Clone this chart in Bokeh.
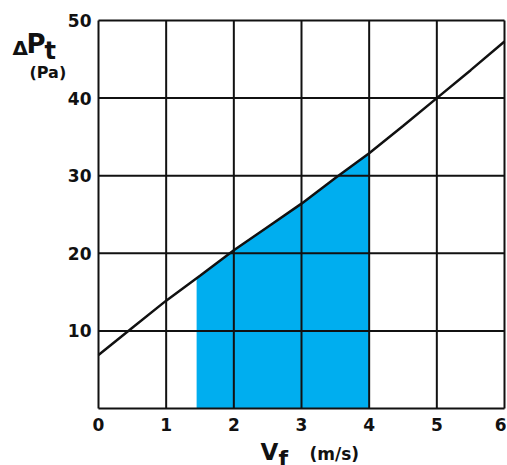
from bokeh.plotting import figure
from bokeh.models import FixedTicker, Label, Range1d
from bokeh.embed import file_html
from bokeh.resources import INLINE

# Curve data (Vf in m/s, ΔPt in Pa)
vf = [0, 0.5, 1, 1.5, 2, 2.5, 3, 3.5, 4, 4.5, 5, 5.5, 6]
dpt = [6.9, 10.4, 13.9, 17.1, 20.4, 23.4, 26.4, 29.7, 32.9, 36.4, 40.0, 43.6, 47.3]

# Shaded operating region
fill_vf = [1.45, 2, 2.5, 3, 3.5, 4]
fill_dpt = [16.8, 20.4, 23.4, 26.4, 29.7, 32.9]

x_ticks = [0, 1, 2, 3, 4, 5, 6]
y_ticks = [10, 20, 30, 40, 50]
y_grid = [0, 10, 20, 30, 40, 50]

FONT = "DejaVu Sans"
INK = "#111111"

W, H = 506, 465
# plot box spans x 0..6 and y 0..50; the canvas extends around it for labels
p = figure(width=W, height=H, output_backend="svg", toolbar_location=None,
           x_range=Range1d(-1.4483, 6.0296), y_range=Range1d(-7.345, 52.577),
           min_border=0)
p.background_fill_color = "white"
p.border_fill_color = "white"
p.outline_line_color = None
p.xgrid.visible = False
p.ygrid.visible = False

p.varea(x=fill_vf, y1=0, y2=fill_dpt, fill_color="#00AEEF")

# grid box
p.segment(x0=x_ticks, y0=[y_grid[0]] * len(x_ticks), x1=x_ticks,
          y1=[y_grid[-1]] * len(x_ticks), line_color=INK, line_width=2)
p.segment(x0=[x_ticks[0]] * len(y_grid), y0=y_grid, x1=[x_ticks[-1]] * len(y_grid),
          y1=y_grid, line_color=INK, line_width=2)

p.line(vf, dpt, line_color=INK, line_width=2.5)

p.xaxis.ticker = FixedTicker(ticks=x_ticks)
p.yaxis.ticker = FixedTicker(ticks=y_ticks)
p.xaxis.fixed_location = 0
p.yaxis.fixed_location = 0
for ax in (p.xaxis, p.yaxis):
    ax.axis_line_color = None
    ax.major_tick_line_color = None
    ax.minor_tick_line_color = None
    ax.major_tick_out = 0
    ax.major_tick_in = 0
    ax.major_label_text_font = FONT
    ax.major_label_text_font_style = "bold"
    ax.major_label_text_font_size = "17px"
    ax.major_label_text_color = INK
p.xaxis.major_label_standoff = 9
p.yaxis.major_label_standoff = 7

def lab(x, y, text, size):
    p.add_layout(Label(x=x, y=y, text=text,
                       text_font=FONT, text_font_style="bold",
                       text_font_size=size, text_color=INK,
                       text_align="left", text_baseline="alphabetic"))

lab(-1.270, 46.50, "Δ", "20px")
lab(-1.064, 46.95, "P", "26px")
lab(-0.798, 46.10, "t", "24px")
lab(-1.020, 43.30, "(Pa)", "16px")
lab(2.394, -5.55, "V", "23px")
lab(2.660, -6.45, "f", "22px")
lab(3.118, -5.82, "(m/s)", "17px")

open("out.html", "w").write(file_html(p, INLINE))
